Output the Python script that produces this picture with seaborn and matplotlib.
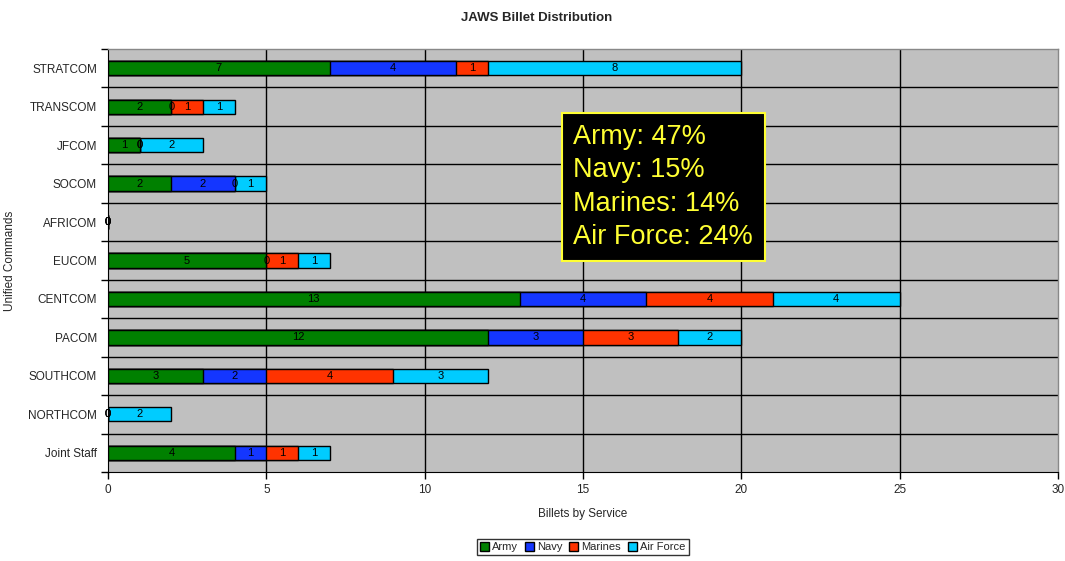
# JAWS billet distribution - stacked horizontal bars

import numpy as np
import pandas as pd
import matplotlib.pyplot as plt
import matplotlib.patches as mpatches
import seaborn as sns

commands = ['STRATCOM', 'TRANSCOM', 'JFCOM', 'SOCOM', 'AFRICOM', 'EUCOM',
            'CENTCOM', 'PACOM', 'SOUTHCOM', 'NORTHCOM', 'Joint Staff']
services = ['Army', 'Navy', 'Marines', 'Air Force']
army = [7, 2, 1, 2, 0, 5, 13, 12, 3, 0, 4]
navy = [4, 0, 0, 2, 0, 0, 4, 3, 2, 0, 1]
marines = [1, 1, 0, 0, 0, 1, 4, 3, 4, 0, 1]
air_force = [8, 1, 2, 1, 0, 1, 4, 2, 3, 2, 1]
colors = ['#008000', '#1436FF', '#FF3300', '#00CCFF']
summary = ['Army: 47%', 'Navy: 15%', 'Marines: 14%', 'Air Force: 24%']

df = pd.DataFrame({'Army': army, 'Navy': navy, 'Marines': marines, 'Air Force': air_force},
                  index=commands)
cum = df.cumsum(axis=1)

sns.set_style('white')
plt.rcParams['font.family'] = ['Liberation Sans', 'DejaVu Sans']

fig = plt.figure(figsize=(10.65, 5.61), dpi=100)
ax = fig.add_axes([0.1014, 0.1586, 0.8920, 0.7541])
ax.set_facecolor('#C0C0C0')

# draw cumulative totals back to front so segments stack
for s, c in reversed(list(zip(services, colors))):
    d = pd.DataFrame({'command': commands, 'cum': cum[s].values})
    sns.barplot(data=d, x='cum', y='command', color=c, saturation=1, edgecolor='black',
                linewidth=1, width=0.37, orient='h', ax=ax, zorder=3)

# segment labels
for s in services:
    for i, cmd in enumerate(commands):
        v = df.loc[cmd, s]
        ax.text(cum.loc[cmd, s] - v / 2, i, str(v), ha='center', va='center',
                fontsize=8, color='black', zorder=5)

ax.set_xlim(0, 30)
ax.set_ylim(len(commands) - 0.5, -0.5)
ax.set_xticks(np.arange(0, 31, 5))
ax.set_yticks(np.arange(-0.5, len(commands), 1), minor=True)

# interior gridlines only (outer frame is grey)
for xv in ax.get_xticks()[1:-1]:
    ax.axvline(xv, color='black', lw=1, zorder=1)
for yv in np.arange(0.5, len(commands) - 1, 1):
    ax.axhline(yv, color='black', lw=1, zorder=1)

ax.tick_params(axis='y', which='major', length=0, labelsize=8.5, pad=8)
ax.tick_params(axis='y', which='minor', length=5, width=1, color='black', direction='out', left=True)
ax.tick_params(axis='x', length=5, width=1, color='black', direction='out', bottom=True, labelsize=8.5)
for sp in ['top', 'right']:
    ax.spines[sp].set_color('#888888')
    ax.spines[sp].set_linewidth(1)
ax.spines['left'].set_color('black')
ax.spines['bottom'].set_color('black')
ax.set_xlabel('Billets by Service', fontsize=8.5, labelpad=9)
ax.set_ylabel('Unified Commands', fontsize=8.5, labelpad=9)

fig.suptitle('JAWS Billet Distribution', fontsize=9.5, fontweight='bold', x=0.504, y=0.978)

ax.text(0.49, 0.822, '\n'.join(summary), transform=ax.transAxes, ha='left', va='top',
        fontsize=19.5, color='#FFFF33', linespacing=1.36, zorder=6,
        bbox=dict(facecolor='black', edgecolor='#FFFF33', lw=1.5, boxstyle='square,pad=0.42'))

handles = [mpatches.Patch(facecolor=c, edgecolor='black', label=s) for s, c in zip(services, colors)]
fig.legend(handles=handles, loc='lower center', bbox_to_anchor=(0.547, 0.0), ncol=4,
           fontsize=8, frameon=True, fancybox=False, edgecolor='black', handlelength=0.8,
           handleheight=0.8, handletextpad=0.3, columnspacing=0.6, borderpad=0.3)

plt.savefig('out.png', dpi=100)
